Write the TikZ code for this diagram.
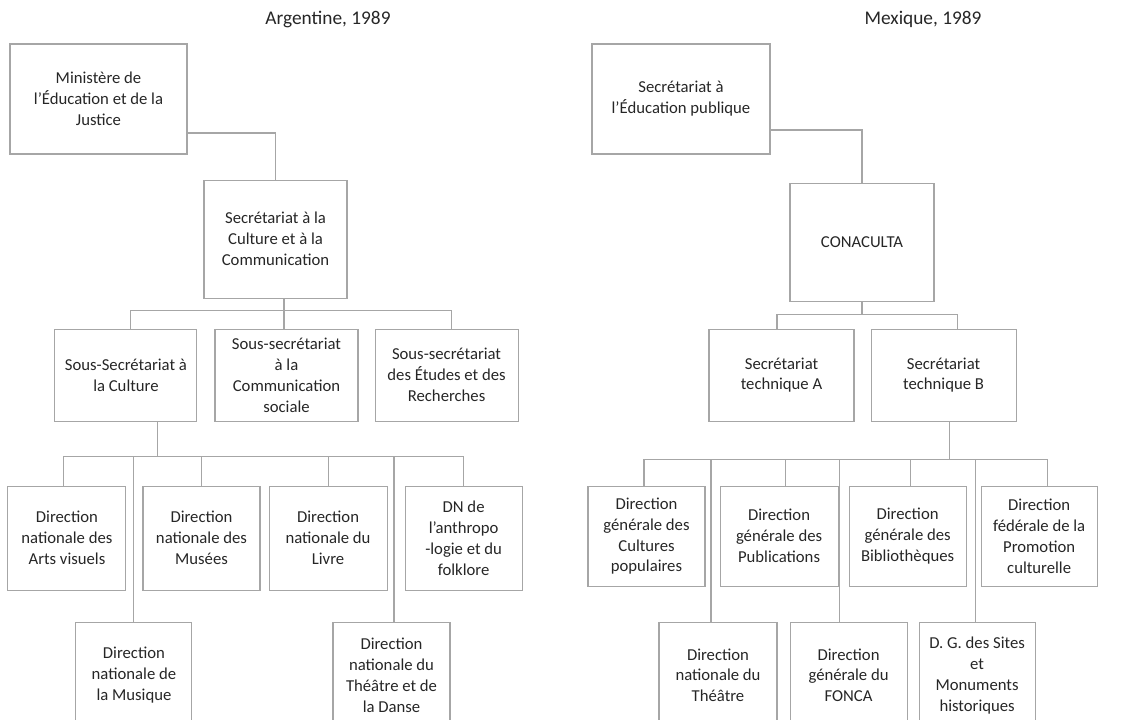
\documentclass[tikz,border=0pt]{standalone}
\usepackage{fontspec}
\setmainfont{Carlito}
\usepackage{tikz}
\usetikzlibrary{calc, positioning}
\usepackage{xcolor}
\definecolor{orgLine}{HTML}{A6A6A6}
\definecolor{orgText}{HTML}{262626}
\tikzstyle{obox} = [%
  rectangle,
  draw=orgLine,
  line width=0.6pt,
  align=center,
  text=orgText,
  text centered,
  inner sep=1pt,
  font=\fontsize{9.5}{11.9}\selectfont
]

\begin{document}
\begin{tikzpicture}[%
  link/.style={%
    draw=orgLine,
    line width=0.6pt
  },
  title/.style={%
    text=orgText,
    font=\fontsize{11}{13}\selectfont
  }
]

  \path[use as bounding box, clip] (0,0) rectangle (22.68,-14.4);

  % Titles
  \node[title] (TA) at (6.56,-0.38) {Argentine, 1989};
  \node[title] (TM) at (18.46,-0.38) {Mexique, 1989};

  % Argentine nodes
  \node[obox,minimum width=3.54cm,minimum height=2.2cm] (Min) at (1.97,-1.98) {Ministère de\\l’Éducation et de la\\Justice};
  \node[obox,minimum width=2.86cm,minimum height=2.36cm,below=0.5cm of Min,xshift=3.54cm] (SecCul) {Secrétariat à la\\Culture et à la\\Communication};
  \node[obox,minimum width=2.86cm,minimum height=1.84cm,below=0.6cm of SecCul,xshift=0.22cm] (SsCom) {Sous-secrétariat\\à la\\Communication\\sociale};
  \node[obox,minimum width=2.84cm,minimum height=1.84cm,left=0.34cm of SsCom] (SsCul) {Sous-Secrétariat à\\la Culture};
  \node[obox,minimum width=2.86cm,minimum height=1.84cm,right=0.32cm of SsCom] (SsEtu) {Sous-secrétariat\\des Études et des\\Recherches};

  \node[obox,minimum width=2.36cm,minimum height=2.08cm,below=1.28cm of SsCul,xshift=-1.18cm] (DnArts) {Direction\\nationale des\\Arts visuels};
  \node[obox,minimum width=2.34cm,minimum height=2.08cm,right=0.32cm of DnArts] (DnMusees) {Direction\\nationale des\\Musées};
  \node[obox,minimum width=2.36cm,minimum height=2.08cm,right=0.16cm of DnMusees] (DnLivre) {Direction\\nationale du\\Livre};
  \node[obox,minimum width=2.34cm,minimum height=2.08cm,right=0.34cm of DnLivre] (DnAnthro) {DN de\\l’anthropo\\-logie et du\\folklore};
  \node[obox,minimum width=2.32cm,minimum height=2.12cm,below=0.62cm of DnArts,xshift=1.34cm] (DnMusique) {Direction\\nationale de\\la Musique};
  \node[obox,minimum width=2.34cm,minimum height=2.12cm,right=2.8cm of DnMusique] (DnTheatre) {Direction\\nationale du\\Théâtre et de\\la Danse};

  % Mexique nodes
  \node[obox,minimum width=3.56cm,minimum height=2.2cm] (Sep) at (13.62,-1.98) {Secrétariat à\\l’Éducation publique};
  \node[obox,minimum width=2.88cm,minimum height=2.36cm,below=0.56cm of Sep,xshift=3.62cm] (Cona) {CONACULTA};
  \node[obox,minimum width=2.9cm,minimum height=1.84cm,below=0.54cm of Cona,xshift=-1.61cm] (StA) {Secrétariat\\technique A};
  \node[obox,minimum width=2.9cm,minimum height=1.84cm,right=0.32cm of StA] (StB) {Secrétariat\\technique B};

  \node[obox,minimum width=2.34cm,minimum height=2.0cm,below=1.28cm of StA,xshift=-2.7cm] (DgCult) {Direction\\générale des\\Cultures\\populaires};
  \node[obox,minimum width=2.36cm,minimum height=2.0cm,right=0.28cm of DgCult] (DgPub) {Direction\\générale des\\Publications};
  \node[obox,minimum width=2.34cm,minimum height=2.0cm,right=0.2cm of DgPub] (DgBib) {Direction\\générale des\\Bibliothèques};
  \node[obox,minimum width=2.32cm,minimum height=2.0cm,right=0.28cm of DgBib] (DfProm) {Direction\\fédérale de la\\Promotion\\culturelle};
  \node[obox,minimum width=2.36cm,minimum height=2.12cm,below=0.7cm of DgCult,xshift=1.43cm] (DnTh) {Direction\\nationale du\\Théâtre};
  \node[obox,minimum width=2.34cm,minimum height=2.12cm,right=0.24cm of DnTh] (DgFonca) {Direction\\générale du\\FONCA};
  \node[obox,minimum width=2.32cm,minimum height=2.12cm,right=0.22cm of DgFonca] (DgSites) {D. G. des Sites\\et\\Monuments\\historiques};

  % Bus points
  \coordinate (busA) at ($(SecCul.south)+(0.17,-0.24)$);
  \coordinate (busB) at ($(SsCul.south)+(0.64,-0.7)$);
  \coordinate (busC) at ($(Cona.south)+(0,-0.26)$);
  \coordinate (busD) at ($(StB.south)+(0.11,-0.76)$);

  % Argentine edges
  \draw[link] ([yshift=-0.68cm]Min.east) -| (SecCul.north);
  \draw[link] ([xshift=0.17cm]SecCul.south) -- (busA);
  \foreach \n/\dx in {SsCul/0.1,SsCom/-0.05,SsEtu/0.09}
    \draw[link] (busA) -| ([xshift=\dx cm]\n.north);
  \draw[link] ([xshift=0.64cm]SsCul.south) -- (busB);
  \foreach \n/\dx in {DnArts/-0.06,DnMusees/0,DnLivre/0,DnAnthro/0,DnMusique/0,DnTheatre/0.05}
    \draw[link] (busB) -| ([xshift=\dx cm]\n.north);

  % Mexique edges
  \draw[link] ([yshift=-0.62cm]Sep.east) -| (Cona.north);
  \draw[link] (Cona.south) -- (busC);
  \foreach \n/\dx in {StA/-0.09,StB/0.27}
    \draw[link] (busC) -| ([xshift=\dx cm]\n.north);
  \draw[link] ([xshift=0.11cm]StB.south) -- (busD);
  \foreach \n/\dx in {DgCult/-0.05,DgPub/0.12,DgBib/0.05,DfProm/0.16,DnTh/-0.14,DgFonca/-0.19,DgSites/-0.04}
    \draw[link] (busD) -| ([xshift=\dx cm]\n.north);

\end{tikzpicture}
\end{document}
